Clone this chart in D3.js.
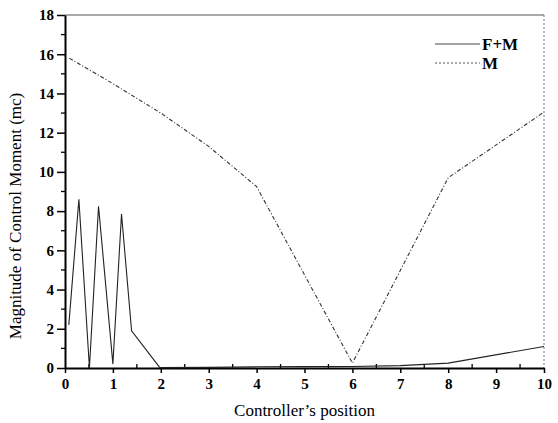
<!DOCTYPE html>
<html>
<head>
<meta charset="utf-8">
<script src="https://cdnjs.cloudflare.com/ajax/libs/d3/7.8.5/d3.min.js"></script>
<style>
  body { margin: 0; background: #fff; }
</style>
</head>
<body>
<div id="chart"></div>
<script>
// F+M series (solid)
var fmX = [0.08, 0.29, 0.51, 0.70, 1.0, 1.18, 1.39, 1.98, 3, 4, 5, 6, 7, 8, 10];
var fmY = [2.2, 8.6, 0.0, 8.25, 0.2, 7.85, 1.9, 0.02, 0.03, 0.06, 0.07, 0.08, 0.12, 0.25, 1.1];
// M series (dash-dot)
var mX = [0.09, 1, 2, 3, 4, 6, 8, 10];
var mY = [15.8, 14.5, 13.0, 11.3, 9.25, 0.25, 9.7, 13.05];

var xTicks = [0, 1, 2, 3, 4, 5, 6, 7, 8, 9, 10];
var yTicks = [0, 2, 4, 6, 8, 10, 12, 14, 16, 18];
var seriesNames = ["F+M", "M"];

var FONT = "'Liberation Serif', 'Times New Roman', serif";

var W = 558, H = 423;
var margin = {top: 15, right: 14, bottom: 55, left: 65},
    width = W - margin.left - margin.right,
    height = H - margin.top - margin.bottom;

var svg = d3.select("#chart").append("svg")
    .attr("width", W)
    .attr("height", H)
  .append("g")
    .attr("transform", "translate(" + margin.left + "," + margin.top + ")");

var x = d3.scaleLinear().domain([0, 10]).range([0, width]);
var y = d3.scaleLinear().domain([0, 18]).range([height, 0]);

// frame: top solid, right dotted
svg.append("line").attr("x1", 0).attr("x2", width).attr("y1", 0).attr("y2", 0)
    .attr("stroke", "#555").attr("stroke-width", 1);
svg.append("line").attr("x1", width).attr("x2", width).attr("y1", 0).attr("y2", height)
    .attr("stroke", "#777").attr("stroke-width", 1).attr("stroke-dasharray", "2,2");

// minor ticks
var xMinor = d3.range(0.5, 10, 1);
svg.selectAll(".xminor").data(xMinor).enter().append("line")
    .attr("x1", function(d) { return x(d); }).attr("x2", function(d) { return x(d); })
    .attr("y1", height).attr("y2", height - 4)
    .attr("stroke", "#000").attr("stroke-width", 1.3);
var yMinor = d3.range(1, 18, 2);
svg.selectAll(".yminor").data(yMinor).enter().append("line")
    .attr("x1", -4).attr("x2", 0)
    .attr("y1", function(d) { return y(d); }).attr("y2", function(d) { return y(d); })
    .attr("stroke", "#000").attr("stroke-width", 1.3);

// X axis
var gx = svg.append("g")
    .attr("transform", "translate(0," + height + ")")
    .call(d3.axisBottom(x).tickValues(xTicks).tickSize(5).tickSizeOuter(0).tickPadding(5));
gx.select(".domain").attr("stroke-width", 2);
gx.selectAll(".tick line").attr("stroke-width", 1.5);
gx.selectAll(".tick text").style("font-family", FONT).style("font-size", "15px").style("font-weight", "bold");

// Y axis
var gy = svg.append("g")
    .call(d3.axisLeft(y).tickValues(yTicks).tickSize(8).tickSizeOuter(0).tickPadding(3));
gy.select(".domain").attr("stroke-width", 2);
gy.selectAll(".tick line").attr("stroke-width", 1.5);
gy.selectAll(".tick text").style("font-family", FONT).style("font-size", "15px").style("font-weight", "bold");

// lines
var line = d3.line()
    .x(function(d) { return x(d[0]); })
    .y(function(d) { return y(d[1]); });

var fmData = d3.zip(fmX, fmY);
var mData = d3.zip(mX, mY);

svg.append("path").datum(mData)
    .attr("d", line).attr("fill", "none")
    .attr("stroke", "#333").attr("stroke-width", 1.1)
    .attr("stroke-dasharray", "4,2,1,2");

svg.append("path").datum(fmData)
    .attr("d", line).attr("fill", "none")
    .attr("stroke", "#222").attr("stroke-width", 1.1);

// legend
var legend = svg.append("g").attr("transform", "translate(" + (435 - margin.left) + "," + (44 - margin.top) + ")");
seriesNames.forEach(function(name, i) {
    var g = legend.append("g").attr("transform", "translate(0," + (i * 19) + ")");
    g.append("line").attr("x1", 0).attr("x2", 45).attr("y1", 0).attr("y2", 0)
        .attr("stroke", i === 0 ? "#444" : "#555").attr("stroke-width", 1)
        .attr("stroke-dasharray", i === 0 ? null : "2,2");
    g.append("text").attr("x", 47).attr("y", 5.5)
        .style("font-family", FONT)
        .style("font-size", "17px").style("font-weight", "bold")
        .text(name);
});

// axis titles
svg.append("text")
    .attr("transform", "translate(" + (width / 2) + "," + (height + 48) + ")")
    .style("text-anchor", "middle")
    .style("font-family", FONT)
    .style("font-size", "17px")
    .text("Controller\u2019s position");

svg.append("text")
    .attr("transform", "rotate(-90)")
    .attr("y", 0 - margin.left + 4)
    .attr("x", 0 - (216 - margin.top))
    .attr("dy", "1em")
    .style("text-anchor", "middle")
    .style("font-family", FONT)
    .style("font-size", "17px")
    .text("Magnitude of Control Moment (mc)");
</script>
</body>
</html>
